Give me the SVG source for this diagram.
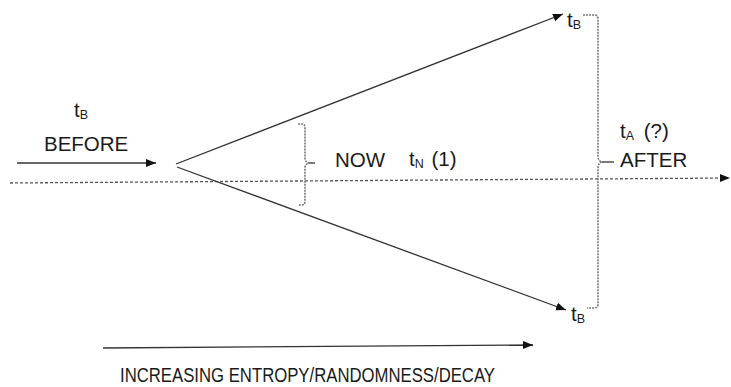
<svg xmlns="http://www.w3.org/2000/svg" width="731" height="387" viewBox="0 0 731 387">
<style>
text{font-family:"Liberation Sans",Arial,sans-serif;fill:#1a1a1a;font-size:20.5px}
.sub{font-size:12.5px}
.ln{stroke:#333;stroke-width:1.3;fill:none}
.dash{stroke:#555;stroke-width:1.3;stroke-dasharray:3 2;fill:none}
.brace{stroke:#777;stroke-width:1.6;stroke-dasharray:2 1;fill:none}
</style>
<defs>
<marker id="ah" viewBox="0 0 10 10" refX="10" refY="5" markerWidth="10" markerHeight="10" markerUnits="userSpaceOnUse" orient="auto">
<path d="M0,1 L10,5 L0,9 Z" fill="#111"/>
</marker>
</defs>
<g id="connectors">
<line class="dash" x1="10" y1="183" x2="730" y2="178" marker-end="url(#ah)"/>
<line class="ln" x1="17" y1="163" x2="156" y2="163" marker-end="url(#ah)"/>
<line class="ln" x1="176" y1="164" x2="563" y2="14" marker-end="url(#ah)"/>
<line class="ln" x1="177" y1="167" x2="566" y2="310" marker-end="url(#ah)"/>
<line class="ln" x1="103" y1="348" x2="533" y2="345" marker-end="url(#ah)"/>
</g>
<g id="before">
<text x="74" y="117">t<tspan class="sub" dy="1.5">B</tspan></text>
<text x="44" y="151">BEFORE</text>
</g>
<g id="now">
<path class="brace" d="M298,124 H302 Q305,124 305,128 V158 Q305,162 309,163 Q305,164 305,168 V201 Q305,205 302,205 H298"/>
<line x1="309" y1="163" x2="315" y2="163" stroke="#333" stroke-width="1.3"/>
<text x="335" y="167">NOW</text>
<text x="409" y="166">t<tspan class="sub" dy="1.5">N</tspan><tspan dy="-1.5" dx="2"> (1)</tspan></text>
</g>
<g id="top-tb">
<text x="567" y="27">t<tspan class="sub" dy="1.5">B</tspan></text>
</g>
<g id="bottom-tb">
<text x="571" y="321">t<tspan class="sub" dy="1.5">B</tspan></text>
</g>
<g id="after">
<path class="brace" d="M583,15 H594 Q598,15 598,19 V156 Q598,161 602,162 Q598,163 598,168 V304 Q598,308 594,308 H587"/>
<line x1="602" y1="162" x2="614" y2="162" stroke="#333" stroke-width="1.3"/>
<text x="620" y="138">t<tspan class="sub" dy="1.5">A</tspan><tspan dy="-1.5" dx="4"> (?)</tspan></text>
<text x="620" y="167">AFTER</text>
</g>
<g id="entropy">
<text x="120" y="382" font-size="20.5" textLength="375" lengthAdjust="spacingAndGlyphs">INCREASING ENTROPY/RANDOMNESS/DECAY</text>
</g>
</svg>
